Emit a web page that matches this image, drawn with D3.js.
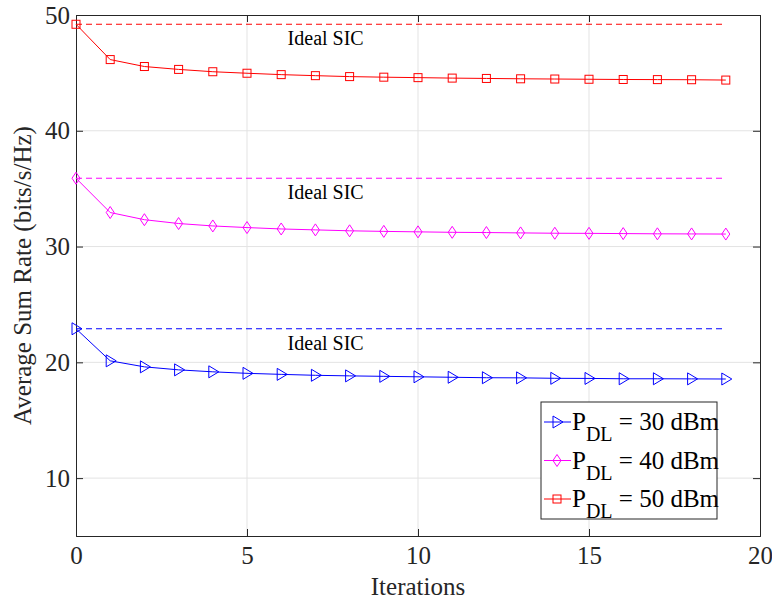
<!DOCTYPE html>
<html><head><meta charset="utf-8">
<script src="https://cdn.jsdelivr.net/npm/d3@7"></script>
<style>body{margin:0;background:#fff}svg{display:block}</style>
</head><body><svg id="c" width="772" height="599"></svg>
<script>
const iterations = d3.range(0, 20);
const rate30 = [22.9,20.13,19.61,19.35,19.18,19.05,18.96,18.88,18.83,18.79,18.75,18.71,18.67,18.66,18.62,18.61,18.58,18.58,18.57,18.56];
const rate40 = [35.9,32.94,32.32,31.99,31.78,31.64,31.52,31.44,31.36,31.31,31.27,31.23,31.21,31.18,31.15,31.14,31.12,31.10,31.09,31.08];
const rate50 = [49.2,46.15,45.55,45.3,45.1,44.97,44.85,44.76,44.68,44.63,44.59,44.55,44.52,44.49,44.47,44.45,44.43,44.42,44.41,44.38];
const ideal30 = 22.9, ideal40 = 35.9, ideal50 = 49.2;
const xTicks = [0,5,10,15,20];
const yTicks = [10,20,30,40,50];
const seriesNames = ["30","40","50"];
const FONT = "'Liberation Serif', 'DejaVu Serif', serif";

const svg = d3.select("#c");
const L=76,R=760,T=15,B=536;
const x = d3.scaleLinear().domain([0,20]).range([L,R]);
const y = d3.scaleLinear().domain([5,50]).range([B,T]);

function txt(sel,size,color){return sel.style("font-family",FONT).style("font-size",size+"px").style("fill",color||"#262626");}

svg.append("g").selectAll("line").data(xTicks.slice(1,-1)).join("line")
  .attr("x1",d=>x(d)).attr("x2",d=>x(d)).attr("y1",T).attr("y2",B).attr("stroke","#e3e3e3");
svg.append("g").selectAll("line").data(yTicks.slice(0,-1)).join("line")
  .attr("y1",d=>y(d)).attr("y2",d=>y(d)).attr("x1",L).attr("x2",R).attr("stroke","#e3e3e3");

const ax = svg.append("g").attr("transform",`translate(0,${B})`).call(d3.axisBottom(x).tickValues(xTicks).tickSize(-7).tickPadding(10));
const ay = svg.append("g").attr("transform",`translate(${L},0)`).call(d3.axisLeft(y).tickValues(yTicks).tickSize(-7).tickPadding(6));
const axT = svg.append("g").attr("transform",`translate(0,${T})`).call(d3.axisTop(x).tickValues(xTicks).tickSize(-7).tickFormat(""));
const ayR = svg.append("g").attr("transform",`translate(${R},0)`).call(d3.axisRight(y).tickValues(yTicks).tickSize(-7).tickFormat(""));
[ax,ay,axT,ayR].forEach(g=>{
  g.select(".domain").attr("stroke","#262626").attr("stroke-width",1);
  g.selectAll(".tick line").attr("stroke","#262626");
  txt(g.selectAll(".tick text"),25);});

txt(svg.append("text").attr("x",(L+R)/2).attr("y",595).attr("text-anchor","middle"),25).text("Iterations");
txt(svg.append("text").attr("transform",`translate(31,${(T+B)/2}) rotate(-90)`).attr("text-anchor","middle"),25).text("Average Sum Rate (bits/s/Hz)");

const defs=[
  {vals:rate30, ideal:ideal30, color:"#0000ff", marker:"tri"},
  {vals:rate40, ideal:ideal40, color:"#ff00ff", marker:"dia"},
  {vals:rate50, ideal:ideal50, color:"#ff0000", marker:"sq"}];

function marker(g,type,color){
  if(type==="sq") g.append("rect").attr("x",-4).attr("y",-4).attr("width",8).attr("height",8);
  else if(type==="dia") g.append("path").attr("d","M0,-6L4,0L0,6L-4,0Z");
  else g.append("path").attr("d","M-4,-6L6,0L-4,6Z");
  g.selectAll("*").attr("fill","none").attr("stroke",color).attr("stroke-width",1);
}

const line=d3.line().x((d,i)=>x(iterations[i])).y(d=>y(d));
defs.forEach(s=>{
  svg.append("line").attr("x1",x(iterations[0])).attr("x2",x(iterations[iterations.length-1]))
    .attr("y1",y(s.ideal)).attr("y2",y(s.ideal)).attr("stroke",s.color).attr("stroke-dasharray","6,4").attr("stroke-width",1);
  txt(svg.append("text").attr("x",x(7.3)).attr("y",y(s.ideal)+21).attr("text-anchor","middle"),20,"#000").text("Ideal SIC");
  svg.append("path").datum(s.vals).attr("d",line).attr("fill","none").attr("stroke",s.color).attr("stroke-width",1);
  s.vals.forEach((v,i)=>{const g=svg.append("g").attr("transform",`translate(${x(iterations[i])},${y(v)})`);marker(g,s.marker,s.color);});
});

const lg=svg.append("g").attr("transform","translate(541,402)");
lg.append("rect").attr("width",176).attr("height",117).attr("fill","#fff").attr("stroke","#262626").attr("stroke-width",1);
defs.forEach((s,i)=>{
  const yy=20+i*38.5;
  lg.append("line").attr("x1",3).attr("x2",30).attr("y1",yy).attr("y2",yy).attr("stroke",s.color);
  const g=lg.append("g").attr("transform",`translate(16,${yy})`);marker(g,s.marker,s.color);
  const t=txt(lg.append("text").attr("x",31).attr("y",yy+8),25,"#000");
  t.append("tspan").text("P");
  t.append("tspan").style("font-size","20px").attr("dy",11).text("DL");
  t.append("tspan").attr("dy",-11).text(` = ${seriesNames[i]} dBm`);
});
</script></body></html>
